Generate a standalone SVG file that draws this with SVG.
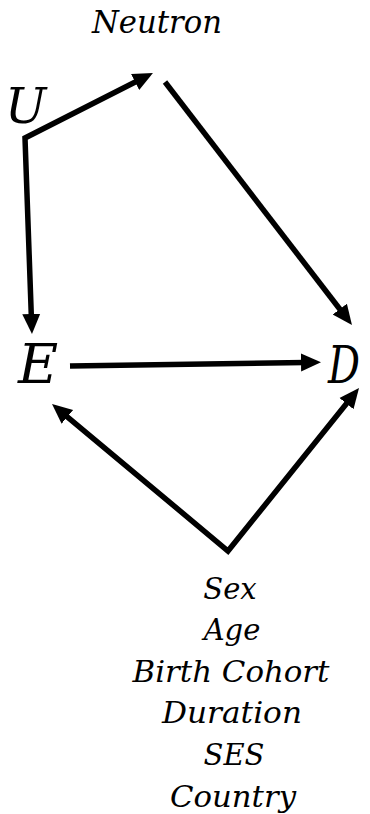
<svg xmlns="http://www.w3.org/2000/svg" width="370" height="814" viewBox="0 0 370 814">
<style>
text{font-family:"DejaVu Serif","Liberation Serif",serif;font-style:italic;fill:#000}
.big{font-size:55px}
.mid{font-size:31px}
.small{font-size:29px;text-anchor:middle}
.edge{fill:none;stroke:#000;stroke-width:5.5;stroke-linejoin:miter}
</style>
<defs>
<marker id="ah" markerUnits="userSpaceOnUse" markerWidth="22" markerHeight="20" viewBox="0 -10 22 20" refX="4" refY="0" orient="auto-start-reverse">
<path d="M0,-9 L20,0 L0,9 z" fill="#000"/>
</marker>
</defs>
<g id="connectors">
<path class="edge" d="M138.7,80.2 L25,138 L31.4,318" marker-start="url(#ah)" marker-end="url(#ah)"/>
<path class="edge" d="M165,82 L342.2,312.3" marker-end="url(#ah)"/>
<path class="edge" d="M70,366 L305,362.4" marker-end="url(#ah)"/>
<path class="edge" d="M64.3,414.3 L228,551 L349,400.5" marker-start="url(#ah)" marker-end="url(#ah)"/>
</g>
<g id="neutron"><text class="mid" x="92" y="33" textLength="130" lengthAdjust="spacingAndGlyphs">Neutron</text></g>
<g id="U"><text class="big" x="5" y="123" style="font-size:49px">U</text></g>
<g id="E"><text class="big" x="18" y="383">E</text></g>
<g id="D"><text class="big" x="328" y="383" style="font-size:52px" textLength="32" lengthAdjust="spacingAndGlyphs">D</text></g>
<g id="covariates">
<text class="small" x="230" y="599">Sex</text>
<text class="small" x="232" y="640">Age</text>
<text class="small" x="231" y="682" textLength="197" lengthAdjust="spacingAndGlyphs">Birth Cohort</text>
<text class="small" x="232" y="723" textLength="140" lengthAdjust="spacingAndGlyphs">Duration</text>
<text class="small" x="234" y="765">SES</text>
<text class="small" x="233" y="807" textLength="126" lengthAdjust="spacingAndGlyphs">Country</text>
</g>
</svg>
